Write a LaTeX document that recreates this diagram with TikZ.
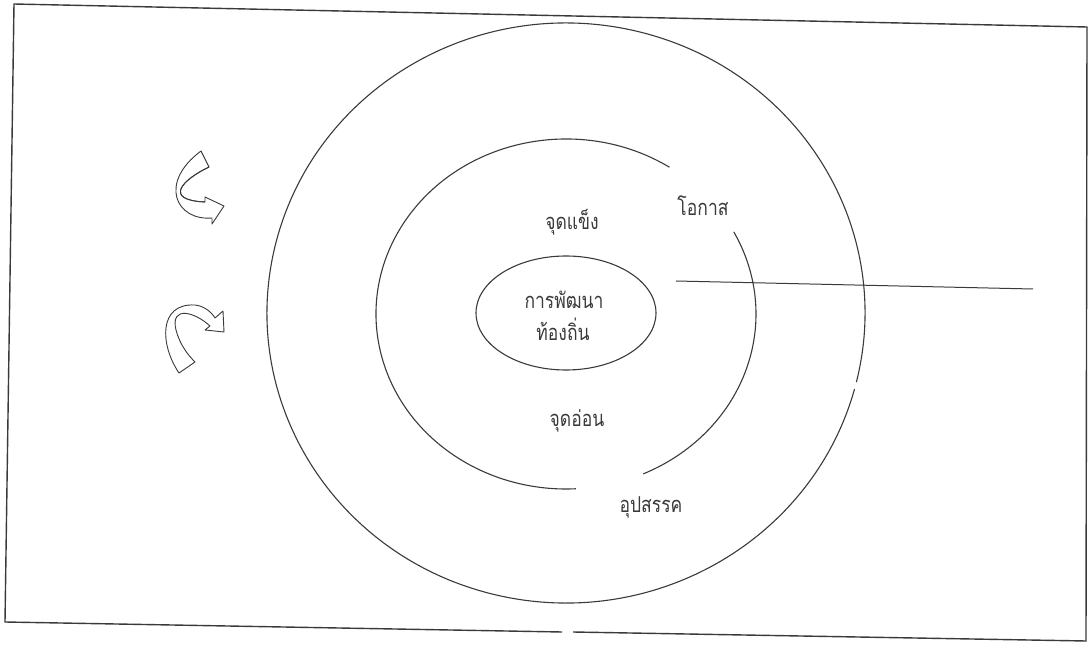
\documentclass[tikz,border=0pt]{standalone}
\usepackage{fontspec}
\newfontfamily\thaifont[Script=Thai]{Loma}
\usetikzlibrary{shapes.geometric}
\definecolor{ink}{HTML}{3A3A3A}
\tikzset{
  ring/.style={draw=ink,line width=1.1pt},
  frameline/.style={draw=ink,line width=1.4pt},
  lbl/.style={font=\thaifont\fontsize{17.5}{20}\selectfont,text=ink,inner sep=0pt,transform shape,yscale=1.25},
  bentarrow/.style={draw=ink,line width=0.9pt,line join=round,fill=white}
}
\begin{document}
\begin{tikzpicture}[x=1pt,y=-1pt]
\useasboundingbox (0,0) rectangle (1088,647);
% frame
\coordinate (TL) at (14,4);
\coordinate (TR) at (1087,27);
\coordinate (BR) at (1086,641);
\coordinate (BL) at (5,622);
\coordinate (G1) at (562,632);
\coordinate (G2) at (573,632);
\draw[frameline] (G1) -- (BL) -- (TL) -- (TR) -- (BR) -- (G2);
% outer circle
\coordinate (C) at (566,313);
\draw[ring] ([shift={(-13.8:299pt and 290pt)}]C) arc[start angle=-13.8,end angle=344.8,x radius=299pt,y radius=290pt];
% middle circle
\coordinate (M) at (566,314);
\draw[ring] ([shift={(57:190pt and 175pt)}]M) arc[start angle=57,end angle=273,x radius=190pt,y radius=175pt];
\draw[ring] ([shift={(-66:190pt and 175pt)}]M) arc[start angle=-66,end angle=28,x radius=190pt,y radius=175pt];
% inner ellipse
\node[ellipse,ring,minimum width=180pt,minimum height=114pt,inner sep=0pt] (core) at (566,313) {};
\node[lbl] (t1) at (564,300) {การพัฒนา};
\node[lbl] (t2) at (563,329) {ท้องถิ่น};
% labels
\node[lbl] (s) at (572,222) {จุดแข็ง};
\node[lbl] (o) at (703,206) {โอกาส};
\node[lbl] (w) at (577,421) {จุดอ่อน};
\node[lbl] (th) at (651,507) {อุปสรรค};
% horizontal line
\coordinate (h1) at (676,281);
\coordinate (h2) at (1033,289);
\draw[ink,line width=1pt] (h1) -- (h2);
% top bent arrow
\draw[bentarrow] (201,151) -- (209,167) .. controls (182,180) and (163,200) .. (205,202)
  -- (205,197) -- (224,206) -- (212,224) -- (212,218)
  .. controls (176,221) and (158,183) .. (201,151) -- cycle;
\draw[ink,line width=0.9pt] (209,167) .. controls (182,180) and (163,200) .. (205,202);
% bottom bent arrow
\draw[bentarrow] (179,373) .. controls (160,345) and (158,303) .. (195,305)
  .. controls (205,306) and (212,313) .. (215,318) -- (223,311) -- (224,332) -- (205,330) -- (210,326)
  .. controls (195,312) and (170,305) .. (176,330) .. controls (180,345) and (188,355) .. (195,362) -- cycle;
\end{tikzpicture}
\end{document}
